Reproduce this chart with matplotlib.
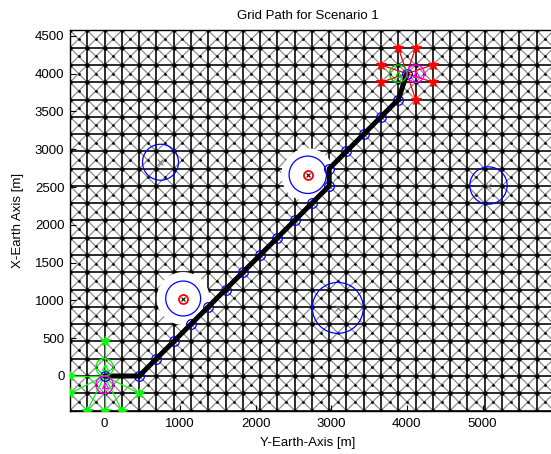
import numpy as np
import matplotlib
matplotlib.use("Agg")
import matplotlib.pyplot as plt
from matplotlib.collections import LineCollection
from matplotlib.patches import Circle

plt.rcParams['font.family'] = ['Liberation Sans', 'DejaVu Sans']

# Grid spacing [m] and node index ranges (Y-earth columns, X-earth rows)
cell = 228.6
grid_cols = list(range(-2, 27))
grid_rows = list(range(-2, 21))

# Obstacles: Y-earth, X-earth, radius [m]; active ones clear the grid around them
obst_y = [740, 5079, 3086, 1040, 2688]
obst_x = [2828, 2520, 901, 1025, 2662]
obst_r = [238, 247, 337, 231, 247]
obst_active = [False, False, False, True, True]
clear_r = 350.0

# Planned path waypoints in grid units (Y, X)
path_iy = [0, 2, 3, 4, 5, 6, 7, 8, 9, 10, 11, 12, 13, 13, 14, 15, 16, 17, 17.5]
path_ix = [0, 0, 1, 2, 3, 4, 5, 6, 7, 8, 9, 10, 11, 12, 13, 14, 15, 16, 17.5]

# Neighbour nodes examined around start and goal (grid units)
start_nb_y = [0, -2, -2, -1, 0, 1, 2]
start_nb_x = [2, 0, -1, -2, -2, -2, -1]
goal_nb_y = [17, 18, 16, 19, 16, 19, 18]
goal_nb_x = [19, 19, 18, 18, 17, 17, 16]

turn_r = 115.0

c0, c1 = grid_cols[0], grid_cols[-1]
r0, r1 = grid_rows[0], grid_rows[-1]

ortho, diag = [], []
for i in grid_cols:
    for j in grid_rows:
        p = (i * cell, j * cell)
        if i < c1:
            ortho.append([p, ((i + 1) * cell, j * cell)])
        if j < r1:
            ortho.append([p, (i * cell, (j + 1) * cell)])
        if i < c1 and j < r1:
            diag.append([p, ((i + 1) * cell, (j + 1) * cell)])
            diag.append([((i + 1) * cell, j * cell), (i * cell, (j + 1) * cell)])

nodes = [(i * cell, j * cell) for i in grid_cols for j in grid_rows]
centers = [((i + 0.5) * cell, (j + 0.5) * cell) for i in grid_cols[:-1] for j in grid_rows[:-1]]

W, H = 551, 454
fig = plt.figure(figsize=(W / 100, H / 100), dpi=100)
px_per_m = 17.28 / cell
left_px, top_px = 70, 30.4
height_px = (r1 - r0) * cell * px_per_m
width_px = W - left_px
ax = fig.add_axes([left_px / W, (H - top_px - height_px) / H, width_px / W, height_px / H])
ax.set_xlim(c0 * cell, c0 * cell + width_px / px_per_m)
ax.set_ylim(r0 * cell, r1 * cell)

ax.add_collection(LineCollection(diag, colors='#8c8c8c', linewidths=0.9, zorder=1))
ax.add_collection(LineCollection(ortho, colors='#1a1a1a', linewidths=1.3, zorder=2))
ax.plot([p[0] for p in nodes], [p[1] for p in nodes], 'o', color='black', ms=3.2, mew=0, zorder=3)
ax.plot([p[0] for p in centers], [p[1] for p in centers], 'o', color='black', ms=2.0, mew=0, zorder=3)

# Obstacles
for oy, ox, r, a in zip(obst_y, obst_x, obst_r, obst_active):
    if a:
        ax.add_patch(Circle((oy, ox), clear_r, fc='white', ec='none', zorder=3.5))
    ax.add_patch(Circle((oy, ox), r, fill=False, ec='blue', lw=0.9, zorder=4))
    if a:
        ax.plot(oy, ox, 'o', mfc='none', mec='red', ms=6.5, mew=1.3, zorder=5)
        ax.plot(oy, ox, 'x', color='black', ms=3.5, mew=0.8, zorder=5)
    else:
        ax.plot(oy, ox, 'x', color='#777777', ms=4, mew=0.8, zorder=5)

py = [v * cell for v in path_iy]
px = [v * cell for v in path_ix]

# Start / goal neighbourhood rays
sy, sx = py[0], px[0]
gy, gx = py[-1], px[-1]
for ny, nx in zip(start_nb_y, start_nb_x):
    ax.plot([sy, ny * cell], [sx, nx * cell], color='#00ff00', lw=0.9, zorder=6)
ax.plot([v * cell for v in start_nb_y], [v * cell for v in start_nb_x], '*', color='#00ff00',
        ms=7, mew=0.8, zorder=6)
for ny, nx in zip(goal_nb_y, goal_nb_x):
    ax.plot([gy, ny * cell], [gx, nx * cell], color='red', lw=0.9, zorder=6)
ax.plot([v * cell for v in goal_nb_y], [v * cell for v in goal_nb_x], '*', color='red',
        ms=7, mew=0.8, zorder=6)

# Waypoint markers and path
ax.plot(py, px, 'o', mfc='none', mec='blue', ms=7, mew=0.9, zorder=7)
ax.plot(py, px, '-', color='black', lw=3.6, solid_capstyle='round', zorder=8)

# Turning circles at start and goal
for cy, cx, col in [(sy, sx + turn_r, '#00ff00'), (sy, sx - turn_r, 'magenta'),
                    (gy - turn_r, gx, '#00cc00'), (gy + turn_r, gx, 'magenta')]:
    ax.add_patch(Circle((cy, cx), turn_r, fill=False, ec=col, lw=1.0, zorder=9))
    ax.plot(cy, cx, '^', mfc='none', mec=col, ms=5, mew=0.9, zorder=9)

ax.set_xticks([0, 1000, 2000, 3000, 4000, 5000])
ax.set_yticks([0, 500, 1000, 1500, 2000, 2500, 3000, 3500, 4000, 4500])
ax.tick_params(direction='in', length=4, width=0.8, labelsize=9.5, colors='black')
ax.tick_params(axis='x', pad=5)
ax.tick_params(axis='y', pad=4)
ax.spines['right'].set_visible(False)
for s in ['left', 'bottom', 'top']:
    ax.spines[s].set_linewidth(1.0)

ax.set_title('Grid Path for Scenario 1', fontsize=9.5, x=0.495, pad=8)
ax.set_xlabel('Y-Earth-Axis [m]', fontsize=9.5)
ax.set_ylabel('X-Earth Axis [m]', fontsize=9.5)
ax.xaxis.set_label_coords(0.495, -(442.7 - (top_px + height_px)) / height_px)
ax.xaxis.label.set_va('center')
ax.yaxis.set_label_coords(-(left_px - 18) / width_px, 0.5)
ax.yaxis.label.set_va('center')

fig.savefig('out.png', dpi=100)
